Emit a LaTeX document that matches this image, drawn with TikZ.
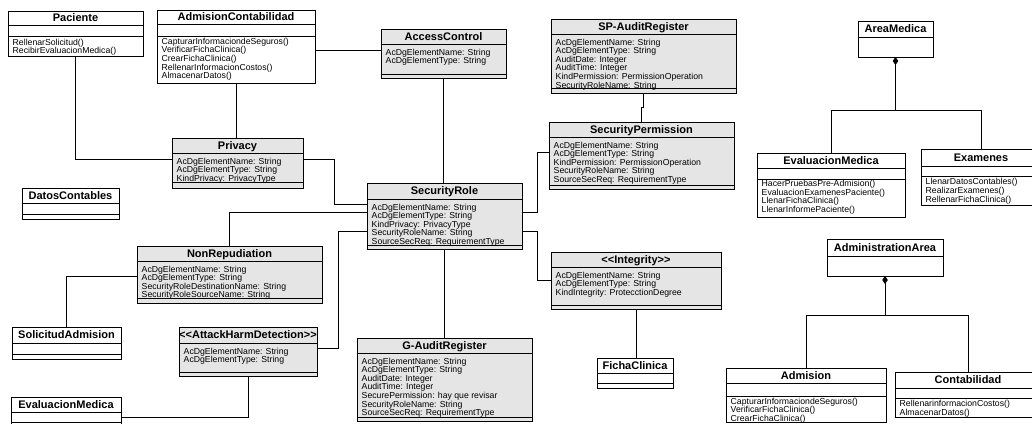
\documentclass[tikz,border=0pt]{standalone}
\usepackage{fontspec}
\setmainfont{Liberation Sans}
\usetikzlibrary{calc,arrows.meta}

\tikzset{
  secclass/.style={draw=black, line width=0.9pt, fill=black!10, inner sep=0pt, outer sep=0pt},
  plainclass/.style={draw=black, line width=0.8pt, fill=white, inner sep=0pt, outer sep=0pt},
  classtitle/.style={font=\fontsize{11}{11}\selectfont\bfseries, inner sep=0pt, text height=7.9pt, text depth=0pt},
  classbody/.style={font=\fontsize{8.7}{8.65}\selectfont, inner sep=0pt, align=left, anchor=north west},
  compart/.style={line width=0.8pt},
  link/.style={line width=0.8pt, draw=black},
  composition/.style={link, -{Diamond[length=8pt,width=5.5pt]}},
}

% class frame: name, style, left, top, width, height, title-row height
\newcommand\umlbox[7]{%
  \node[#2, minimum width=#5pt, minimum height=#6pt, anchor=north west] (#1) at (#3pt,-#4pt) {};
  \draw[compart] ($(#1.north west)+(0,-#7pt)$) -- ($(#1.north east)+(0,-#7pt)$);
}
% class name centred in the title row: box, row height, text
\newcommand\umltitle[3]{\node[classtitle] (#1-title) at ($(#1.north)+(0,-#2pt/2)$) {#3};}
% compartment rule: box, offset from top
\newcommand\umlsep[2]{\draw[compart] ($(#1.north west)+(0,-#2pt)$) -- ($(#1.north east)+(0,-#2pt)$);}
% compartment text: box, offset of the text top, lines
\newcommand\umlbody[3]{\node[classbody] (#1-body) at ($(#1.north west)+(4.5pt,-#2pt)$) {\rule{0pt}{6.6pt}#3};}

\begin{document}
\begin{tikzpicture}
\useasboundingbox (0,0) rectangle (1032pt,-423pt);
\fill[white] (0,0) rectangle (1032pt,-423pt);
\clip (0,0) rectangle (1032pt,-423pt);

% ---------- security classes ----------
\umlbox{accessctl}{secclass}{381}{29}{125}{49}{15}
\umltitle{accessctl}{15}{AccessControl}
\umlbody{accessctl}{19.2}{AcDgElementName: String\\AcDgElementType: String}
\umlsep{accessctl}{45}

\umlbox{privacy}{secclass}{172}{138}{131}{50}{15}
\umltitle{privacy}{15}{Privacy}
\umlbody{privacy}{19.2}{AcDgElementName: String\\AcDgElementType: String\\KindPrivacy: PrivacyType}
\umlsep{privacy}{44}

\umlbox{spaudit}{secclass}{551}{19}{185}{74}{15}
\umltitle{spaudit}{15}{SP-AuditRegister}
\umlbody{spaudit}{19.2}{AcDgElementName: String\\AcDgElementType: String\\AuditDate: Integer\\AuditTime: Integer\\KindPermission: PermissionOperation\\SecurityRoleName: String}
\umlsep{spaudit}{69}

\umlbox{secperm}{secclass}{549}{122}{185}{67}{15}
\umltitle{secperm}{15}{SecurityPermission}
\umlbody{secperm}{19.2}{AcDgElementName: String\\AcDgElementType: String\\KindPermission: PermissionOperation\\SecurityRoleName: String\\SourceSecReq: RequirementType}
\umlsep{secperm}{63}

\umlbox{secrole}{secclass}{367}{183}{155}{66}{16}
\umltitle{secrole}{16}{SecurityRole}
\umlbody{secrole}{20.2}{AcDgElementName: String\\AcDgElementType: String\\KindPrivacy: PrivacyType\\SecurityRoleName: String\\SourceSecReq: RequirementType}
\umlsep{secrole}{62}

\umlbox{nonrep}{secclass}{137}{246}{185}{57}{15}
\umltitle{nonrep}{15}{NonRepudiation}
\umlbody{nonrep}{19.2}{AcDgElementName: String\\AcDgElementType: String\\SecurityRoleDestinationName: String\\SecurityRoleSourceName: String}
\umlsep{nonrep}{52}

\umlbox{attack}{secclass}{179}{327}{138}{49}{16}
\umltitle{attack}{16}{{<}{<}AttackHarmDetection{>}{>}}
\umlbody{attack}{20.2}{AcDgElementName: String\\AcDgElementType: String}
\umlsep{attack}{45}

\umlbox{integrity}{secclass}{551}{252}{170}{57}{15}
\umltitle{integrity}{15}{{<}{<}Integrity{>}{>}}
\umlbody{integrity}{19.2}{AcDgElementName: String\\AcDgElementType: String\\KindIntegrity: ProtecctionDegree}
\umlsep{integrity}{53}

\umlbox{gaudit}{secclass}{357}{338}{175}{83}{15}
\umltitle{gaudit}{15}{G-AuditRegister}
\umlbody{gaudit}{19.2}{AcDgElementName: String\\AcDgElementType: String\\AuditDate: Integer\\AuditTime: Integer\\SecurePermission: hay que revisar\\SecurityRoleName: String\\SourceSecReq: RequirementType}
\umlsep{gaudit}{79}

% ---------- domain classes ----------
\umlbox{paciente}{plainclass}{8}{11}{135}{45}{14}
\umltitle{paciente}{14}{Paciente}
\umlsep{paciente}{25}
\umlbody{paciente}{27.2}{RellenarSolicitud()\\RecibirEvaluacionMedica()}

\umlbox{admcont}{plainclass}{157}{10}{158}{73}{14}
\umltitle{admcont}{14}{AdmisionContabilidad}
\umlsep{admcont}{26}
\umlbody{admcont}{27.4}{CapturarInformaciondeSeguros()\\VerificarFichaClinica()\\CrearFichaClinica()\\RellenarInformacionCostos()\\AlmacenarDatos()}

\umlbox{datos}{plainclass}{22}{188}{97}{31}{15}
\umltitle{datos}{15}{DatosContables}
\umlsep{datos}{26}

\umlbox{solicitud}{plainclass}{12}{327}{109}{32}{16}
\umltitle{solicitud}{16}{SolicitudAdmision}
\umlsep{solicitud}{27}

\umlbox{evalL}{plainclass}{11}{397}{110}{40}{15}
\umltitle{evalL}{15}{EvaluacionMedica}
\umlsep{evalL}{25}

\umlbox{ficha}{plainclass}{597}{358}{76}{30}{15}
\umltitle{ficha}{15}{FichaClinica}
\umlsep{ficha}{25}

\umlbox{areamedica}{plainclass}{858}{21}{75}{36}{16}
\umltitle{areamedica}{16}{AreaMedica}

\umlbox{evalR}{plainclass}{757}{153}{148}{64}{15}
\umltitle{evalR}{15}{EvaluacionMedica}
\umlsep{evalR}{26}
\umlbody{evalR}{26.6}{HacerPruebasPre-Admision()\\EvaluacionExamenesPaciente()\\LlenarFichaClinica()\\LlenarInformePaciente()}

\umlbox{examenes}{plainclass}{921}{149}{120}{56}{17}
\umltitle{examenes}{17}{Examenes}
\umlsep{examenes}{27}
\umlbody{examenes}{29}{LlenarDatosContables()\\RealizarExamenes()\\RellenarFichaClinica()}

\umlbox{adminarea}{plainclass}{827}{239}{116}{37}{17}
\umltitle{adminarea}{17}{AdministrationArea}

\umlbox{admision}{plainclass}{726}{368}{160}{54.5}{15}
\umltitle{admision}{15}{Admision}
\umlsep{admision}{28}
\umlbody{admision}{29.4}{CapturarInformaciondeSeguros()\\VerificarFichaClinica()\\CrearFichaClinica()}

\umlbox{contab}{plainclass}{895}{372}{146}{45}{16}
\umltitle{contab}{16}{Contabilidad}
\umlsep{contab}{26}
\umlbody{contab}{27.8}{RellenarinformacionCostos()\\AlmacenarDatos()}

% ---------- associations ----------
\draw[link] (paciente.south) |- ([yshift=4pt]privacy.west);
\draw[link] (admcont.south) -- (admcont.south |- privacy.north);
\draw[link] ([yshift=-3.5pt]admcont.east) -- ([yshift=-3.5pt]admcont.east -| accessctl.west);
\draw[link] (accessctl.south) -- (accessctl.south |- secrole.north);
\draw[link] ([yshift=4pt]privacy.east) -| ([xshift=-33pt,yshift=12pt]secrole.west) -- ([yshift=12pt]secrole.west);
\draw[link] (nonrep.north) |- ([yshift=4pt]secrole.west);
\draw[link] ([yshift=3.5pt]attack.east) -| ([xshift=-29pt,yshift=-15pt]secrole.west) -- ([yshift=-15pt]secrole.west);
\draw[link] ([yshift=4pt]secrole.east) -| ([xshift=-12pt,yshift=3.5pt]secperm.west) -- ([yshift=3.5pt]secperm.west);
\draw[link] ([yshift=-15pt]secrole.east) -| ([xshift=-14pt]integrity.west) -- (integrity.west);
\draw[link] (secrole.south) -- (secrole.south |- gaudit.north);
\draw[link] (spaudit.south) -- ++(0,-14pt) -| (secperm.north);
\draw[link] (integrity.south) -- (integrity.south |- ficha.north);
\draw[link] ([yshift=-1.5pt]nonrep.west) -| (solicitud.north);
\draw[link] (attack.south) |- (evalL.east);

% ---------- compositions ----------
\draw[composition] (evalR.north) |- ($(areamedica.south)+(0,-53pt)$) -- (areamedica.south);
\draw[link] (examenes.north) |- ($(areamedica.south)+(0,-53pt)$);
\draw[composition] (admision.north) |- ($(adminarea.south)+(0,-39pt)$) -- (adminarea.south);
\draw[link] (contab.north) |- ($(adminarea.south)+(0,-39pt)$);
\end{tikzpicture}
\end{document}
